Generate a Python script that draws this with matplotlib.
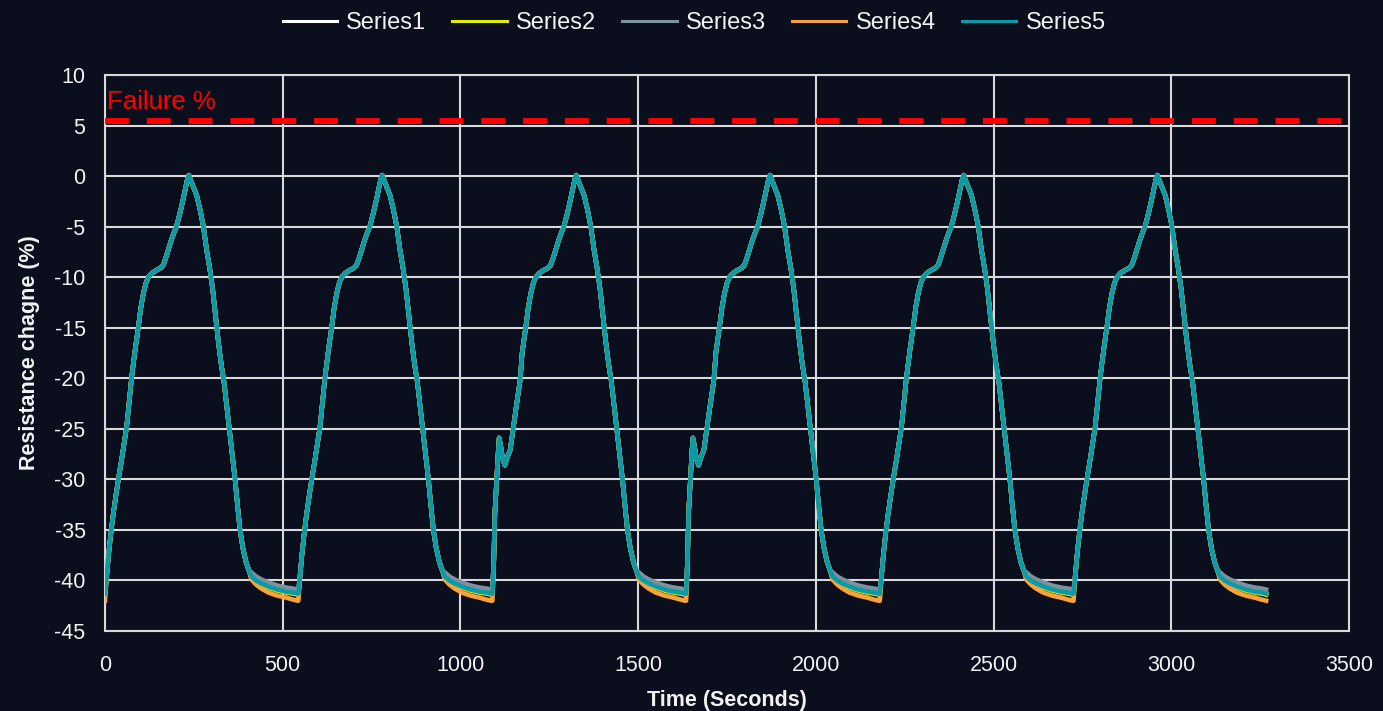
import numpy as np
import matplotlib.pyplot as plt

plt.rcParams['font.family'] = ['Liberation Sans', 'DejaVu Sans']
plt.rcParams['axes.unicode_minus'] = False

BG = '#0a0e1d'
GRID = '#d9d9d9'
TXT = '#f2f2f2'

# start time of each loading cycle (s)
cycle_start = [0, 544, 1090, 1635, 2180, 2725]

# one cycle, time offset from cycle start (s) and resistance change (%)
rise_t = [5, 10, 16, 23, 32, 40, 47, 54, 61, 68, 75, 84, 94, 101, 108, 115, 122,
          132, 145, 156, 164, 171, 178, 186, 194, 201, 210, 218, 226, 232, 236]
rise_y = [-39.5, -37.5, -35.5, -33.5, -31.3, -29.5, -28.0, -26.4, -24.8, -22.3,
          -19.9, -17.4, -14.9, -13.0, -11.6, -10.6, -10.0, -9.6, -9.3, -9.1,
          -8.8, -8.1, -7.3, -6.4, -5.6, -5.0, -3.8, -2.6, -1.3, -0.3, 0.1]

# cycles 3 and 4 show a short spike early in the rise
spike_t = [4, 7, 12, 16, 19, 23, 29, 35, 42, 50, 58, 68, 78]
spike_y = [-38.0, -33.3, -30.0, -27.5, -25.9, -26.6, -28.0, -28.6, -27.8,
           -27.1, -25.1, -22.6, -20.2]
spike_cycles = [2, 3]

fall_t = [240, 248, 258, 268, 277, 286, 295, 303, 311, 319, 327, 335, 343, 350,
          358, 366, 373, 380, 388, 397, 405]
fall_y = [-0.3, -1.0, -1.9, -3.4, -5.0, -7.3, -9.2, -11.2, -13.8, -16.4, -18.6,
          -20.4, -22.9, -25.0, -27.6, -30.0, -32.6, -35.0, -36.8, -38.2, -39.0]

# relaxation tail differs between the five samples
tail_t = [412, 425, 440, 460, 485, 510, 530, 542]
tail_s1 = [-39.6, -40.0, -40.3, -40.6, -40.9, -41.1, -41.2, -41.3]
tail_s2 = [-39.7, -40.1, -40.4, -40.7, -41.0, -41.2, -41.3, -41.4]
tail_s3 = [-39.2, -39.6, -39.9, -40.2, -40.5, -40.7, -40.8, -40.9]
tail_s4 = [-39.9, -40.4, -40.8, -41.2, -41.5, -41.7, -41.9, -42.0]
tail_s5 = [-39.6, -40.0, -40.3, -40.6, -40.9, -41.1, -41.2, -41.3]

series = ['Series1', 'Series2', 'Series3', 'Series4', 'Series5']
tails = [tail_s1, tail_s2, tail_s3, tail_s4, tail_s5]
colors = ['#ffffff', '#dfee00', '#7f919d', '#f7a23a', '#0a9ba8']

failure_level = 5.5


def build(tail):
    t, y = [], []
    for i, t0 in enumerate(cycle_start):
        if i in spike_cycles:
            keep = [k for k, v in enumerate(rise_t) if v > spike_t[-1]]
            rt = spike_t + [rise_t[k] for k in keep]
            ry = spike_y + [rise_y[k] for k in keep]
        else:
            rt, ry = rise_t, rise_y
        seg_t = [0] + rt + fall_t + tail_t
        seg_y = [tail[-1]] + ry + fall_y + tail
        t += [t0 + v for v in seg_t]
        y += seg_y
    return np.array(t), np.array(y)


fig = plt.figure(figsize=(13.83, 7.11), dpi=100, facecolor=BG)
ax = fig.add_axes([0.0759, 0.1125, 0.8995, 0.782])
ax.set_facecolor(BG)

lines = []
for name, tail, c in zip(series, tails, colors):
    t, y = build(tail)
    ln, = ax.plot(t, y, color=c, lw=3.3, label=name, solid_joinstyle='round', zorder=3)
    lines.append(ln)

ax.axhline(failure_level, color='#ff0000', lw=4.3, dashes=(4, 3), zorder=4)
ax.text(5, 6.6, 'Failure %', color='#ff0000', fontsize=18.5, ha='left', va='baseline')

ax.set_xlim(0, 3500)
ax.set_ylim(-45, 10)
ax.set_xticks(np.arange(0, 3501, 500))
ax.set_yticks(np.arange(-45, 11, 5))
ax.grid(True, color=GRID, lw=1.5, zorder=1)
for s in ax.spines.values():
    s.set_color(GRID)
    s.set_linewidth(1.5)
ax.tick_params(length=0, colors=TXT, labelsize=15.5)
ax.tick_params(axis='y', pad=14)
ax.tick_params(axis='x', pad=17)

ax.set_xlabel('Time (Seconds)', color=TXT, fontsize=15.5, fontweight='bold', labelpad=10)
ax.set_ylabel('Resistance chagne (%)', color=TXT, fontsize=15.5, fontweight='bold', labelpad=10)

leg = fig.legend(handles=lines, loc='center', bbox_to_anchor=(0.502, 0.967), ncol=5,
                 frameon=False, fontsize=17, handlelength=2.3, handletextpad=0.4,
                 columnspacing=1.1, labelcolor=TXT)
for h in leg.legend_handles:
    h.set_linewidth(2.2)

fig.savefig('out.png', dpi=100, facecolor=BG)
